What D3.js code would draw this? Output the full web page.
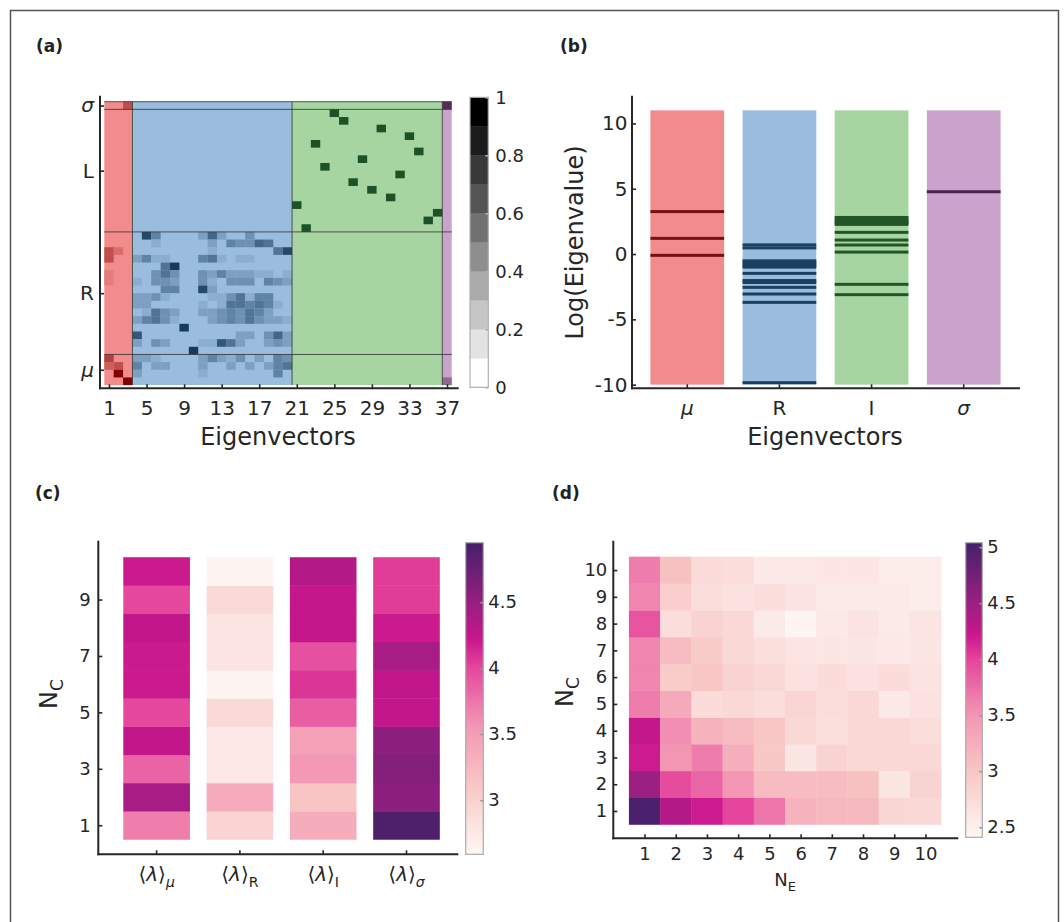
<!DOCTYPE html>
<html><head><meta charset="utf-8">
<script src="https://cdn.jsdelivr.net/npm/d3@7"></script>
<style>
body{margin:0;background:#fff;}
svg{display:block;font-family:"DejaVu Sans",sans-serif;}
</style></head><body>
<svg id="fig" width="1064" height="922"></svg>
<script>
// ---------------- data ----------------
// eigenvector groups (columns of the loading matrix) and their sizes
const eigenGroups = ["μ", "R", "I", "σ"];
const eigenCounts = [3, 17, 16, 1];
// parameter groups (rows, top to bottom) and their sizes
const paramGroups = ["σ", "L", "R", "μ"];
const paramCounts = [1, 16, 16, 4];
const eigTicks = [1, 5, 9, 13, 17, 21, 25, 29, 33, 37];
const loadingTicks = [0, 0.2, 0.4, 0.6, 0.8, 1];

// non-zero loadings: [parameter row (0 = top), eigenvector (1-based), |weight|]
const loadingsMu = [
  [0,3,0.45],[19,1,0.45],[19,2,0.2],[20,1,0.4],[22,1,0.15],[23,1,0.15],
  [33,1,0.55],[34,1,0.35],[34,2,0.4],[35,2,0.95],[36,3,0.95]
];
const loadingsR = [
  [17,5,0.85],[17,6,0.4],[17,11,0.2],[17,12,0.6],[17,13,0.2],[17,16,0.3],
  [18,6,0.15],[18,12,0.2],[18,14,0.45],[18,15,0.3],[18,16,0.3],[18,17,0.65],[18,18,0.55],
  [19,12,0.15],[19,19,0.5],[19,20,0.8],
  [20,4,0.2],[20,5,0.45],[20,6,0.15],[20,7,0.15],[20,11,0.4],[20,12,0.55],[20,13,0.15],[20,15,0.15],[20,16,0.15],
  [21,7,0.5],[21,8,0.95],
  [22,6,0.35],[22,7,0.5],[22,8,0.3],[22,11,0.35],[22,12,0.25],[22,13,0.45],[22,14,0.2],[22,15,0.25],[22,16,0.25],[22,17,0.15],[22,18,0.15],[22,20,0.15],
  [23,4,0.15],[23,6,0.3],[23,7,0.3],[23,8,0.2],[23,11,0.3],[23,12,0.15],[23,14,0.3],[23,15,0.3],[23,16,0.3],[23,18,0.45],[23,19,0.3],[23,20,0.2],
  [24,7,0.45],[24,8,0.4],[24,11,0.8],[24,12,0.25],
  [25,4,0.2],[25,5,0.2],[25,6,0.3],[25,7,0.15],[25,12,0.15],[25,13,0.15],[25,14,0.3],[25,15,0.5],[25,16,0.15],[25,17,0.45],[25,18,0.45],
  [26,4,0.2],[26,5,0.2],[26,11,0.15],[26,13,0.15],[26,14,0.5],[26,15,0.55],[26,16,0.45],[26,17,0.55],[26,18,0.45],[26,19,0.15],
  [27,5,0.15],[27,6,0.5],[27,7,0.3],[27,8,0.2],[27,11,0.2],[27,12,0.2],[27,13,0.3],[27,14,0.45],[27,15,0.35],[27,16,0.5],[27,17,0.4],[27,18,0.2],
  [28,4,0.2],[28,5,0.4],[28,6,0.5],[28,7,0.3],[28,8,0.15],[28,12,0.2],[28,13,0.35],[28,14,0.45],[28,15,0.35],[28,16,0.5],[28,17,0.3],[28,18,0.25],[28,19,0.2],[28,20,0.15],
  [29,9,0.95],
  [30,4,0.75],[30,15,0.2],[30,16,0.2],[30,18,0.3],[30,19,0.6],[30,20,0.2],
  [31,4,0.2],[31,6,0.3],[31,7,0.2],[31,11,0.15],[31,12,0.15],[31,13,0.75],[31,14,0.5],[31,15,0.2],[31,18,0.2],[31,19,0.3],[31,20,0.2],
  [32,10,0.95],
  [33,4,0.2],[33,5,0.2],[33,6,0.15],[33,11,0.2],[33,12,0.4],[33,13,0.2],[33,14,0.15],[33,15,0.3],[33,17,0.2],[33,19,0.4],[33,20,0.3],
  [34,4,0.45],[34,6,0.2],[34,7,0.2],[34,11,0.2],[34,14,0.2],[34,16,0.2],[34,18,0.2],[34,19,0.45],[34,20,0.5],
  [35,4,0.2],[35,11,0.15],[35,19,0.4]
];
const loadingsI = [
  [1,25,0.95],[2,26,0.95],[3,30,0.95],[4,33,0.95],[5,23,0.95],[6,34,0.95],[7,28,0.95],[8,24,0.95],
  [9,32,0.95],[10,27,0.95],[11,29,0.95],[12,31,0.95],[13,21,0.95],[14,36,0.95],[15,35,0.95],[16,22,0.95]
];
const loadingsSigma = [[0,37,0.85],[36,37,0.4]];

// log eigenvalues per eigenvector group
const logEigMu = [3.25, 1.2, -0.1];
const logEigR = [0.7, 0.47, -0.52, -0.68, -0.85, -1.0, -1.48, -2.03, -2.18, -2.55, -3.06, -3.7, -9.85];
const logEigI = [2.8, 2.65, 2.5, 2.38, 2.27, 1.66, 1.07, 0.69, 0.15, -2.32, -3.11];
const logEigSigma = [4.77];
const logEigRange = [-10, 11];
const logEigTicks = [-10, -5, 0, 5, 10];

// mean log eigenvalue per group vs N_C (index 0 -> N_C = 1)
const ncValues = [1, 2, 3, 4, 5, 6, 7, 8, 9, 10];
const meanMu    = [3.7, 4.4, 3.85, 4.25, 4.0, 4.2, 4.2, 4.25, 4.0, 4.2];
const meanR     = [2.97, 3.37, 2.75, 2.75, 2.9, 2.63, 2.8, 2.8, 2.9, 2.62];
const meanI     = [3.35, 3.13, 3.55, 3.46, 3.88, 4.08, 3.95, 4.24, 4.24, 4.33];
const meanSigma = [4.9, 4.55, 4.6, 4.55, 4.25, 4.25, 4.4, 4.2, 4.05, 4.05];
const meanLabels = ["μ", "R", "I", "σ"];
const ncTicksC = [1, 3, 5, 7, 9];
const cbarTicksC = [3, 3.5, 4, 4.5];
const cbarDomainC = [2.59, 4.95];

// mean log eigenvalue on the (N_E, N_C) grid; row k -> N_C = k+1, column j -> N_E = j+1
const neValues = [1, 2, 3, 4, 5, 6, 7, 8, 9, 10];
const gridNC = [
  [5.0, 4.35, 4.2, 4.0, 3.7, 3.2, 3.15, 3.15, 2.8, 2.78],
  [4.5, 3.95, 3.8, 3.5, 3.1, 3.1, 3.1, 3.05, 2.62, 2.85],
  [4.2, 3.5, 3.65, 3.25, 2.97, 2.62, 2.85, 2.78, 2.78, 2.78],
  [4.25, 3.55, 3.2, 3.1, 3.0, 2.78, 2.7, 2.78, 2.78, 2.72],
  [3.65, 3.3, 2.74, 2.78, 2.72, 2.82, 2.72, 2.78, 2.6, 2.68],
  [3.6, 2.93, 3.0, 2.85, 2.78, 2.68, 2.74, 2.68, 2.74, 2.66],
  [3.6, 3.1, 2.95, 2.78, 2.7, 2.64, 2.62, 2.62, 2.58, 2.62],
  [3.9, 2.72, 2.85, 2.78, 2.57, 2.45, 2.58, 2.65, 2.57, 2.64],
  [3.6, 2.9, 2.72, 2.68, 2.72, 2.66, 2.57, 2.57, 2.57, 2.55],
  [3.65, 3.05, 2.75, 2.72, 2.6, 2.6, 2.63, 2.63, 2.55, 2.55]
];
const cbarTicksD = [2.5, 3, 3.5, 4, 4.5, 5];
const cbarDomainD = [2.41, 5.04];

// ---------------- styling ----------------
const INK = "#262626";
const groupBase = ["#f28b8b", "#9abddd", "#a6d5a2", "#c9a3cc"];
const groupDark = ["#850000", "#163a5a", "#1d5226", "#4a1b4e"];
const lineDark  = ["#7b0f0f", "#1b3f5f", "#215728", "#4c1f4f"];
const cmap = d3.scaleLinear()
  .domain([0, 0.034, 0.224, 0.414, 0.605, 0.69, 0.795, 1])
  .range(["#fff7f3", "#fdf0ee", "#f8c6c4", "#f396b4", "#e4449c", "#c8168c", "#9c1f82", "#45206a"])
  .interpolate(d3.interpolateRgb).clamp(true);

const svg = d3.select("#fig");

// outer frame
svg.append("rect").attr("x", 10.5).attr("y", 10.5).attr("width", 1048).attr("height", 960)
  .attr("fill", "none").attr("stroke", "#555").attr("stroke-width", 1.5);

function panelLabel(t, x, y) {
  svg.append("text").attr("x", x).attr("y", y).attr("font-size", 17).attr("font-weight", "bold")
    .attr("fill", "#222").text(t);
}
panelLabel("(a)", 36, 52);
panelLabel("(b)", 560, 52);
panelLabel("(c)", 35, 499);
panelLabel("(d)", 552, 499);

function spine(x1, y1, x2, y2) {
  svg.append("line").attr("x1", x1).attr("y1", y1).attr("x2", x2).attr("y2", y2)
    .attr("stroke", INK).attr("stroke-width", 2).attr("stroke-linecap", "square");
}
function styleAxis(g, size) {
  g.select(".domain").remove();
  g.selectAll(".tick line").attr("stroke", INK).attr("stroke-width", 1.6);
  g.selectAll(".tick text").attr("fill", INK).attr("font-size", size)
    .attr("font-family", "DejaVu Sans");
}
const italicSet = new Set(["μ", "σ"]);
function italicGreek(g) {
  g.selectAll(".tick text").each(function () {
    const t = d3.select(this);
    if (italicSet.has(t.text())) t.attr("font-style", "italic");
  });
}

// ---------------- (a) loading matrix ----------------
const eigCum = d3.cumsum([0, ...eigenCounts]);   // column boundaries
const parCum = d3.cumsum([0, ...paramCounts]);   // row boundaries
const nEig = eigCum[eigCum.length - 1];
const nPar = parCum[parCum.length - 1];
const xA = d3.scaleLinear().domain([0.5, nEig + 0.5]).range([104.3, 451.7]);
const yA = d3.scaleLinear().domain([0, nPar]).range([101.7, 385.1]);
const groupOfCol = c => eigCum.findIndex((v, i) => i > 0 && c <= v) - 1;
const shade = (g, v) => d3.interpolateRgb(groupBase[g], groupDark[g])(Math.min(9, Math.floor(v * 10 + 1e-9)) / 9);

const gA = svg.append("g");
eigenGroups.forEach((name, g) => {
  gA.append("rect")
    .attr("x", xA(eigCum[g] + 0.5)).attr("width", xA(eigCum[g + 1] + 0.5) - xA(eigCum[g] + 0.5))
    .attr("y", yA(0)).attr("height", yA(nPar) - yA(0))
    .attr("fill", groupBase[g]);
});
const allLoadings = [...loadingsMu, ...loadingsR, ...loadingsI, ...loadingsSigma];
gA.selectAll("rect.cell").data(allLoadings).join("rect").attr("class", "cell")
  .attr("x", d => xA(d[1] - 0.5)).attr("width", d => xA(d[1] + 0.5) - xA(d[1] - 0.5))
  .attr("y", d => yA(d[0])).attr("height", d => yA(d[0] + 1) - yA(d[0]))
  .attr("fill", d => shade(groupOfCol(d[1]), d[2]));
// block separators
[0, parCum[1], parCum[2], parCum[3]].forEach(r => {
  gA.append("line").attr("x1", xA(0.5)).attr("x2", xA(nEig + 0.5)).attr("y1", yA(r)).attr("y2", yA(r))
    .attr("stroke", "#3a3a3a").attr("stroke-width", 1).attr("stroke-opacity", 0.85);
});
[eigCum[1], eigCum[2], eigCum[3]].forEach(c => {
  gA.append("line").attr("x1", xA(c + 0.5)).attr("x2", xA(c + 0.5)).attr("y1", yA(0)).attr("y2", yA(nPar))
    .attr("stroke", "#3a3a3a").attr("stroke-width", 1).attr("stroke-opacity", 0.85);
});
// axes
const axAx = svg.append("g").attr("transform", "translate(0,388.3)")
  .call(d3.axisBottom(xA).tickValues(eigTicks).tickSize(-4).tickPadding(13));
styleAxis(axAx, 20);
const parCenters = paramGroups.map((_, g) => (parCum[g] + parCum[g + 1]) / 2);
const axAy = svg.append("g").attr("transform", "translate(100,0)")
  .call(d3.axisLeft(yA).tickValues(parCenters).tickSize(-4).tickPadding(6)
    .tickFormat((d, i) => paramGroups[i]));
styleAxis(axAy, 20);
italicGreek(axAy);
spine(100, 96.7, 100, 388.3);
spine(100, 388.3, 457.7, 388.3);
svg.append("text").attr("x", 278).attr("y", 445).attr("text-anchor", "middle")
  .attr("font-size", 24).attr("fill", INK).text("Eigenvectors");

// colorbar (a), 10 discrete grey levels
const cbA = d3.scaleLinear().domain([0, 1]).range([387.3, 97.3]);
const greyBins = d3.range(10);
svg.append("g").selectAll("rect").data(greyBins).join("rect")
  .attr("x", 470).attr("width", 18.3)
  .attr("y", d => cbA((d + 1) / 10)).attr("height", d => cbA(d / 10) - cbA((d + 1) / 10) + 0.3)
  .attr("fill", d => d3.interpolateRgb("#ffffff", "#000000")(d / 9));
svg.append("rect").attr("x", 470).attr("y", 97.3).attr("width", 18.3).attr("height", 290)
  .attr("fill", "none").attr("stroke", "#b0b0b0").attr("stroke-width", 1.2);
const cbAax = svg.append("g").attr("transform", "translate(488.3,0)")
  .call(d3.axisRight(cbA).tickValues(loadingTicks).tickSize(-3).tickPadding(7)
    .tickFormat(d => d === 0 ? "0" : d === 1 ? "1" : d3.format(".1f")(d)));
styleAxis(cbAax, 18);
cbAax.selectAll(".tick line").attr("stroke", "#b0b0b0");

// ---------------- (b) eigenvalue spectra ----------------
const yB = d3.scaleLinear().domain([-10.28, 12]).range([388.3, 97.3]);
const xB = d3.scaleBand().domain(eigenGroups).range([632, 1019]).paddingInner(0.2).paddingOuter(0.2);
const spectra = [logEigMu, logEigR, logEigI, logEigSigma];
eigenGroups.forEach((name, g) => {
  svg.append("rect").attr("x", xB(name)).attr("width", xB.bandwidth())
    .attr("y", yB(logEigRange[1])).attr("height", yB(logEigRange[0]) - yB(logEigRange[1]))
    .attr("fill", groupBase[g]);
  svg.append("g").selectAll("rect").data(spectra[g]).join("rect")
    .attr("x", xB(name)).attr("width", xB.bandwidth())
    .attr("y", d => yB(d) - 1.5).attr("height", 3)
    .attr("fill", lineDark[g]);
});
const axBy = svg.append("g").attr("transform", "translate(632,0)")
  .call(d3.axisLeft(yB).tickValues(logEigTicks).tickSize(-4).tickPadding(4.5)
    .tickFormat(d => d < 0 ? "-" + Math.abs(d) : String(d)));
styleAxis(axBy, 20);
const axBx = svg.append("g").attr("transform", "translate(0,388.3)")
  .call(d3.axisBottom(xB).tickSize(-4).tickPadding(13));
styleAxis(axBx, 20);
italicGreek(axBx);
spine(632, 96.7, 632, 388.3);
spine(632, 388.3, 1019, 388.3);
svg.append("text").attr("transform", "translate(583,242.5) rotate(-90)").attr("text-anchor", "middle")
  .attr("font-size", 24).attr("fill", INK).text("Log(Eigenvalue)");
svg.append("text").attr("x", 825).attr("y", 445).attr("text-anchor", "middle")
  .attr("font-size", 24).attr("fill", INK).text("Eigenvectors");

// ---------------- (c) group means vs N_C ----------------
const xC = d3.scaleBand().domain(meanLabels).range([98.3, 464.8]).paddingInner(0.2).paddingOuter(0.3);
const yC = d3.scaleLinear().domain([-0.03, 11.05]).range([854.3, 541.7]);
const colorC = v => cmap((v - cbarDomainC[0]) / (cbarDomainC[1] - cbarDomainC[0]));
const meanCols = [meanMu, meanR, meanI, meanSigma];
meanLabels.forEach((name, g) => {
  svg.append("g").selectAll("rect").data(meanCols[g]).join("rect")
    .attr("x", xC(name)).attr("width", xC.bandwidth())
    .attr("y", (d, i) => yC(ncValues[i] + 0.5))
    .attr("height", (d, i) => yC(ncValues[i] - 0.5) - yC(ncValues[i] + 0.5) + 0.4)
    .attr("fill", d => colorC(d));
});
const axCy = svg.append("g").attr("transform", "translate(98.3,0)")
  .call(d3.axisLeft(yC).tickValues(ncTicksC).tickSize(-4).tickPadding(7.5));
styleAxis(axCy, 18);
const axCx = svg.append("g").attr("transform", "translate(0,854.3)")
  .call(d3.axisBottom(xC).tickSize(-4).tickFormat(""));
styleAxis(axCx, 18);
meanLabels.forEach(name => {
  const t = svg.append("text").attr("x", xC(name) + xC.bandwidth() / 2).attr("y", 881)
    .attr("text-anchor", "middle").attr("fill", INK).attr("font-size", 20);
  t.append("tspan").text("\u27e8");
  t.append("tspan").attr("font-style", "italic").text("λ");
  t.append("tspan").text("\u27e9");
  t.append("tspan").attr("dy", 6).attr("font-size", 14)
    .attr("font-style", italicSet.has(name) ? "italic" : null).text(name);
});
spine(98.3, 541.7, 98.3, 854.3);
spine(98.3, 854.3, 457.3, 854.3);
{
  const t = svg.append("text").attr("transform", "translate(57,694) rotate(-90)")
    .attr("text-anchor", "middle").attr("fill", INK).attr("font-size", 24);
  t.append("tspan").text("N");
  t.append("tspan").attr("dy", 6).attr("font-size", 17).text("C");
}

// colorbar builder for (c) and (d)
function gradientBar(id, x, y0, y1, w, domain, ticks) {
  const grad = svg.append("defs").append("linearGradient").attr("id", id)
    .attr("x1", 0).attr("y1", 1).attr("x2", 0).attr("y2", 0);
  d3.range(0, 1.0001, 0.025).forEach(t => {
    grad.append("stop").attr("offset", t).attr("stop-color", cmap(t));
  });
  svg.append("rect").attr("x", x).attr("y", y0).attr("width", w).attr("height", y1 - y0)
    .attr("fill", `url(#${id})`).attr("stroke", "#aaa").attr("stroke-width", 1.2);
  const s = d3.scaleLinear().domain(domain).range([y1, y0]);
  const ax = svg.append("g").attr("transform", `translate(${x + w},0)`)
    .call(d3.axisRight(s).tickValues(ticks).tickSize(-3).tickPadding(5)
      .tickFormat(d => Number.isInteger(d) ? String(d) : d3.format(".1f")(d)));
  styleAxis(ax, 18);
  ax.selectAll(".tick line").attr("stroke", "#999");
}
gradientBar("cbC", 465.7, 542.7, 854.3, 17.6, cbarDomainC, cbarTicksC);

// ---------------- (d) N_E x N_C grid ----------------
const xD = d3.scaleLinear().domain([0, 11.02]).range([613.3, 957.3]);
const yD = d3.scaleLinear().domain([-0.02, 11.06]).range([838.3, 541.7]);
const colorD = v => cmap((v - cbarDomainD[0]) / (cbarDomainD[1] - cbarDomainD[0]));
const cellsD = gridNC.flatMap((row, k) => row.map((v, j) => ({ nc: ncValues[k], ne: neValues[j], v })));
svg.append("g").selectAll("rect").data(cellsD).join("rect")
  .attr("x", d => xD(d.ne - 0.5)).attr("width", d => xD(d.ne + 0.5) - xD(d.ne - 0.5) + 0.4)
  .attr("y", d => yD(d.nc + 0.5)).attr("height", d => yD(d.nc - 0.5) - yD(d.nc + 0.5) + 0.4)
  .attr("fill", d => colorD(d.v));
const axDy = svg.append("g").attr("transform", "translate(613.3,0)")
  .call(d3.axisLeft(yD).tickValues(ncValues).tickSize(-4).tickPadding(6));
styleAxis(axDy, 18);
const axDx = svg.append("g").attr("transform", "translate(0,838.3)")
  .call(d3.axisBottom(xD).tickValues(neValues).tickSize(-4).tickPadding(9));
styleAxis(axDx, 18);
spine(613.3, 541.7, 613.3, 838.3);
spine(613.3, 838.3, 957.3, 838.3);
{
  const t = svg.append("text").attr("transform", "translate(573,692) rotate(-90)")
    .attr("text-anchor", "middle").attr("fill", INK).attr("font-size", 24);
  t.append("tspan").text("N");
  t.append("tspan").attr("dy", 6).attr("font-size", 17).text("C");
  const u = svg.append("text").attr("x", 785).attr("y", 886)
    .attr("text-anchor", "middle").attr("fill", INK).attr("font-size", 18);
  u.append("tspan").text("N");
  u.append("tspan").attr("dy", 5).attr("font-size", 13).text("E");
}
gradientBar("cbD", 965.7, 542.7, 837.3, 16.6, cbarDomainD, cbarTicksD);
</script>
</body></html>
